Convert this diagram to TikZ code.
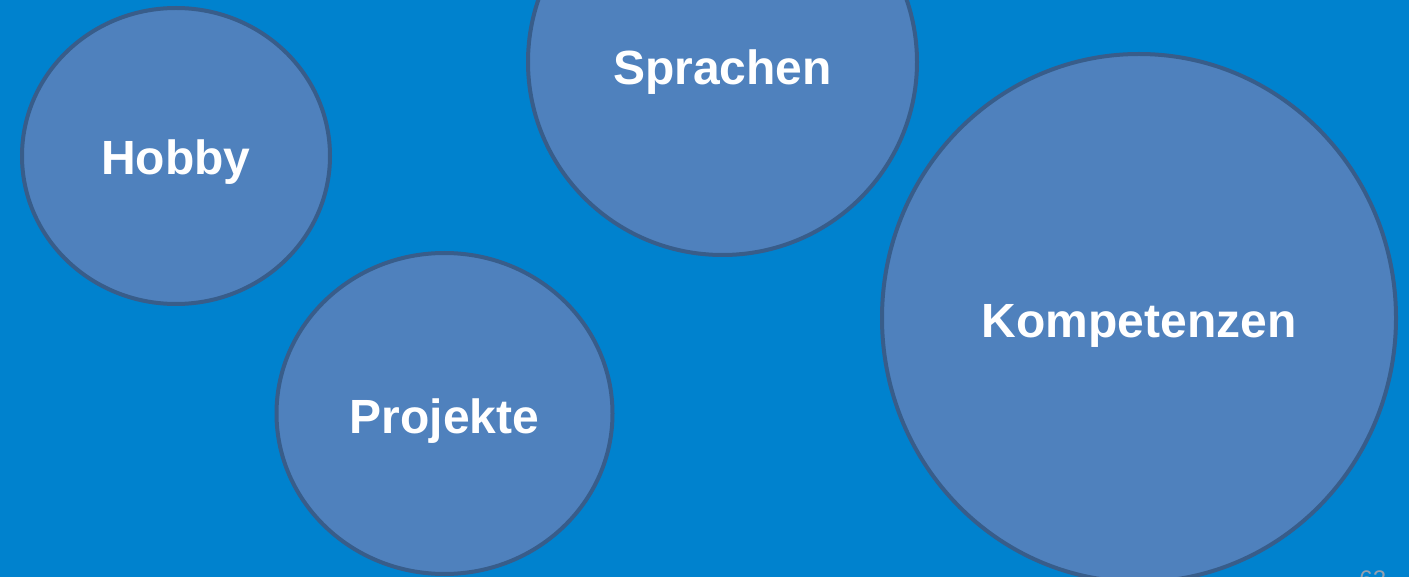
\documentclass[tikz,border=0pt]{standalone}
\usepackage{fontspec}
\setmainfont{Liberation Sans}
\usetikzlibrary{shapes.geometric}
\definecolor{slidebg}{RGB}{0,130,206}
\definecolor{bubblefill}{RGB}{79,129,189}
\definecolor{bubbleedge}{RGB}{56,93,138}
\definecolor{pagenum}{RGB}{150,160,175}
\tikzset{
  bubble/.style={ellipse, draw=bubbleedge, fill=bubblefill, line width=2pt, inner sep=0pt},
  bubbletext/.style={text=white, inner sep=0pt, font=\fontsize{24}{28}\selectfont\bfseries},
}
\begin{document}
\begin{tikzpicture}[x=0.5pt, y=-0.5pt]
  \fill[slidebg] (0,0) rectangle (1409,577);
  \useasboundingbox (0,0) rectangle (1409,577);
  \clip (0,0) rectangle (1409,577);
  % bubbles
  \node[bubble, minimum width=154pt, minimum height=148pt] (hobby) at (176,156) {};
  \node[bubble, minimum width=194.5pt, minimum height=193pt] (sprachen) at (722.5,62) {};
  \node[bubble, minimum width=168pt, minimum height=160.5pt] (projekte) at (444.5,413.5) {};
  \node[bubble, minimum width=257pt, minimum height=264pt] (kompetenzen) at (1139,318) {};
  % labels
  \node[bubbletext] (hobbytext) at (176,162) {Hobby};
  \node[bubbletext] (sprachentext) at (722.5,72) {Sprachen};
  \node[bubbletext] (projekttext) at (444.5,421) {Projekte};
  \node[bubbletext] (kompetenztext) at (1139,326) {Kompetenzen};
  % page number at the lower edge
  \node[anchor=north west, inner sep=0pt, text=pagenum, font=\fontsize{12}{14}\selectfont] (page) at (1359,570) {62};
\end{tikzpicture}
\end{document}
